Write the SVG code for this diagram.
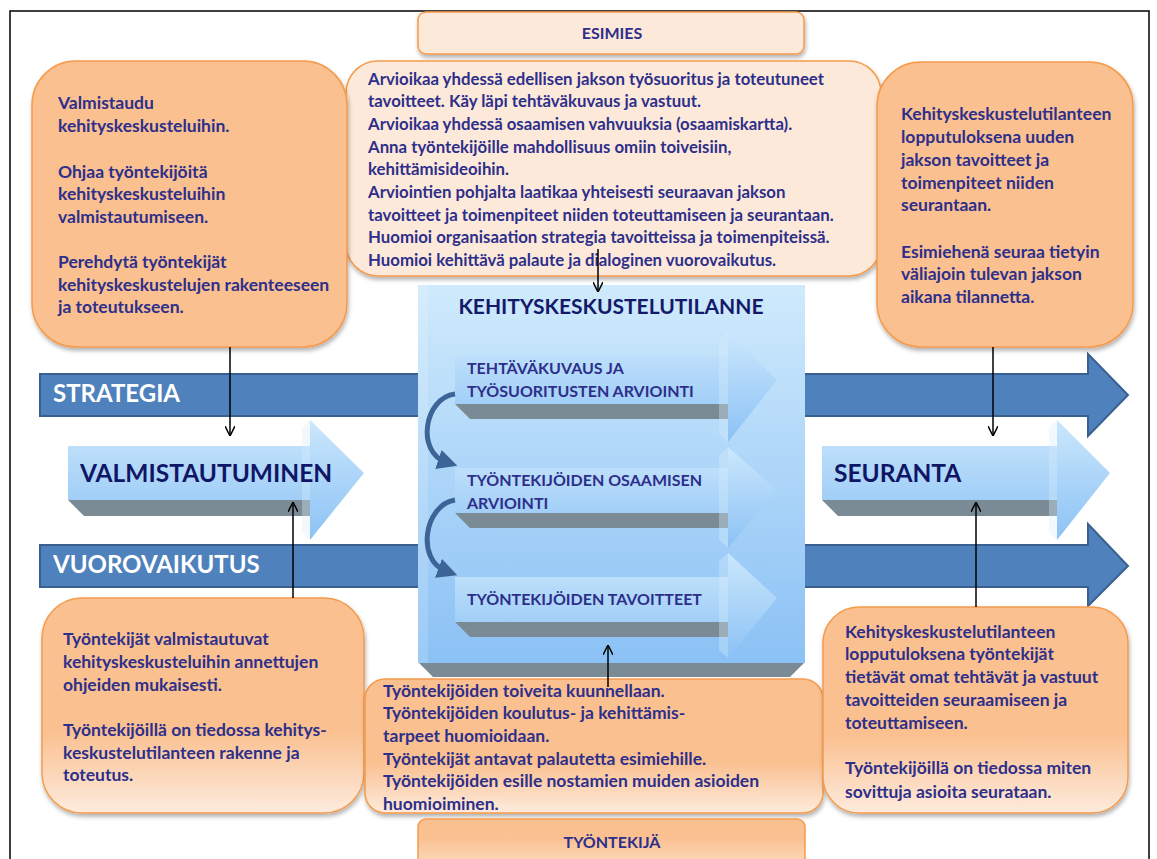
<svg xmlns="http://www.w3.org/2000/svg" width="1157" height="859" viewBox="0 0 1157 859">
<defs>
<style>
.t{font-family:Lato,"Open Sans","Liberation Sans",sans-serif;font-weight:700;font-size:17.5px;fill:#2d2f8a}
.c{font-size:16.8px}
.s{font-size:16px}
.big{font-family:Lato,"Open Sans","Liberation Sans",sans-serif;font-weight:700}
.bar{fill:#4f81bd;stroke:#3a6091;stroke-width:2}
.box{fill:#fac090;stroke:#f59b4c;stroke-width:1.5}
.lbox{fill:#fde9d9;stroke:#f59b4c;stroke-width:1.5}
.sh{fill:#7b8b96}
.conn{stroke:#000;stroke-width:1.5;fill:none;marker-end:url(#open)}
.curv{stroke:#3d6497;stroke-width:5;fill:none;marker-end:url(#fill)}
</style>
<linearGradient id="face" x1="0" y1="0" x2="0" y2="1">
<stop offset="0" stop-color="#cbe7fc"/><stop offset="1" stop-color="#8cc2f5"/>
</linearGradient>
<linearGradient id="panel" x1="0" y1="0" x2="0" y2="1">
<stop offset="0" stop-color="#cfeafc"/><stop offset="1" stop-color="#8bc1f5"/>
</linearGradient>
<linearGradient id="fade" x1="0" y1="0" x2="0" y2="1">
<stop offset="0" stop-color="#fac090"/><stop offset="0.62" stop-color="#fac090"/><stop offset="1" stop-color="#fdebdd"/>
</linearGradient>
<linearGradient id="fade2" x1="0" y1="0" x2="0" y2="1">
<stop offset="0" stop-color="#fac090"/><stop offset="0.3" stop-color="#fac090"/><stop offset="1" stop-color="#fde6d4"/>
</linearGradient>
<filter id="ds" x="-10%" y="-10%" width="130%" height="130%">
<feDropShadow dx="1" dy="3" stdDeviation="2" flood-color="#000" flood-opacity="0.3"/>
</filter>
<marker id="open" viewBox="0 0 10 10" refX="10" refY="5" markerWidth="10" markerHeight="10" markerUnits="userSpaceOnUse" orient="auto">
<path d="M0,0 L10,5 L0,10" fill="none" stroke="#000" stroke-width="1.5"/>
</marker>
<marker id="fill" viewBox="0 0 10 10" refX="4" refY="5" markerWidth="4" markerHeight="4" orient="auto">
<path d="M0,0 L10,5 L0,10 Z" fill="#3d6497"/>
</marker>
</defs>
<rect width="1157" height="859" fill="#fff"/>
<rect x="10" y="11" width="1139" height="870" fill="none" stroke="#000" stroke-width="1.5"/>

<g id="strategia">
<polygon class="bar" points="40,374 1088,374 1088,354 1128,395 1088,436 1088,416 40,416"/>
<text class="big" x="53" y="402" font-size="24" fill="#fff">STRATEGIA</text>
</g>
<g id="vuorovaikutus">
<polygon class="bar" points="40,545 1088,545 1088,524 1128,566 1088,606 1088,587 40,587"/>
<text class="big" x="53" y="573" font-size="24" fill="#fff">VUOROVAIKUTUS</text>
</g>

<g id="kehityskeskustelutilanne">
<polygon class="sh" points="418,662 805,662 790,677 433,677"/>
<rect x="418" y="285" width="387" height="378" fill="url(#panel)"/>
<rect x="418" y="285" width="10" height="378" fill="#fff" opacity="0.15"/>
<text class="big" x="611" y="314" font-size="21" fill="#141a6a" text-anchor="middle">KEHITYSKESKUSTELUTILANNE</text>
</g>

<g id="arvio1">
<polygon class="sh" points="455,404 728,404 728,419 470,419"/>
<path d="M455,355 H728 V332 L777,380 L728,442 V404 H455 Z" fill="url(#face)"/>
<polygon points="719,340 728,332 728,442 719,434" fill="#d6eefc" opacity="0.35"/>
<text class="t s" x="467" y="374" fill="#1c2370">TEHTÄVÄKUVAUS JA</text>
<text class="t s" x="467" y="397" fill="#1c2370">TYÖSUORITUSTEN ARVIOINTI</text>
</g>
<g id="arvio2">
<polygon class="sh" points="455,513 728,513 728,528 470,528"/>
<path d="M455,468 H728 V447 L777,490 L728,548 V513 H455 Z" fill="url(#face)"/>
<polygon points="719,455 728,447 728,548 719,540" fill="#d6eefc" opacity="0.35"/>
<text class="t s" x="467" y="486" fill="#1c2370">TYÖNTEKIJÖIDEN OSAAMISEN</text>
<text class="t s" x="467" y="509" fill="#1c2370">ARVIOINTI</text>
</g>
<g id="arvio3">
<polygon class="sh" points="455,622 728,622 728,637 470,637"/>
<path d="M455,577 H728 V553 L777,598 L728,658 V622 H455 Z" fill="url(#face)"/>
<polygon points="719,561 728,553 728,658 719,650" fill="#d6eefc" opacity="0.35"/>
<text class="t s" x="467" y="605" fill="#1c2370">TYÖNTEKIJÖIDEN TAVOITTEET</text>
</g>

<g id="valmistautuminen">
<polygon class="sh" points="68,500 310,500 310,516 84,516"/>
<path d="M68,446 H310 V420 L364,473 L310,540 V500 H68 Z" fill="url(#face)"/>
<polygon points="302,428 310,420 310,540 302,532" fill="#d6eefc" opacity="0.35"/>
<text class="big" x="80" y="482" font-size="24.5" fill="#0f1666">VALMISTAUTUMINEN</text>
</g>
<g id="seuranta">
<polygon class="sh" points="822,500 1057,500 1057,516 838,516"/>
<path d="M822,446 H1057 V420 L1110,473 L1057,540 V500 H822 Z" fill="url(#face)"/>
<polygon points="1049,428 1057,420 1057,540 1049,532" fill="#d6eefc" opacity="0.35"/>
<text class="big" x="834" y="482" font-size="24.5" fill="#0f1666">SEURANTA</text>
</g>

<g id="esimies">
<rect class="lbox" x="418" y="12" width="386" height="42" rx="8" filter="url(#ds)"/>
<text class="t s" x="612" y="39" text-anchor="middle">ESIMIES</text>
</g>

<g id="esimies-tehtavat">
<rect class="lbox" x="346" y="61" width="535" height="215" rx="32" filter="url(#ds)"/>
<text class="t c" x="368" y="85">Arvioikaa yhdessä edellisen jakson työsuoritus ja toteutuneet</text>
<text class="t c" x="368" y="107">tavoitteet. Käy läpi tehtäväkuvaus ja vastuut.</text>
<text class="t c" x="368" y="130">Arvioikaa yhdessä osaamisen vahvuuksia (osaamiskartta).</text>
<text class="t c" x="368" y="153">Anna työntekijöille mahdollisuus omiin toiveisiin,</text>
<text class="t c" x="368" y="175">kehittämisideoihin.</text>
<text class="t c" x="368" y="198">Arviointien pohjalta laatikaa yhteisesti seuraavan jakson</text>
<text class="t c" x="368" y="221">tavoitteet ja toimenpiteet niiden toteuttamiseen ja seurantaan.</text>
<text class="t c" x="368" y="243">Huomioi organisaation strategia tavoitteissa ja toimenpiteissä.</text>
<text class="t c" x="368" y="266">Huomioi kehittävä palaute ja dialoginen vuorovaikutus.</text>
</g>

<g id="esimies-valmistautuminen">
<rect class="box" x="32" y="61" width="315" height="286" rx="44" filter="url(#ds)"/>
<text class="t" x="58" y="109">Valmistaudu</text>
<text class="t" x="58" y="132">kehityskeskusteluihin.</text>
<text class="t" x="58" y="178">Ohjaa työntekijöitä</text>
<text class="t" x="58" y="200">kehityskeskusteluihin</text>
<text class="t" x="58" y="223">valmistautumiseen.</text>
<text class="t" x="58" y="268">Perehdytä työntekijät</text>
<text class="t" x="58" y="291">kehityskeskustelujen rakenteeseen</text>
<text class="t" x="58" y="313">ja toteutukseen.</text>
</g>

<g id="esimies-seuranta">
<rect class="box" x="877" y="62" width="256" height="285" rx="44" filter="url(#ds)"/>
<text class="t" x="901" y="120">Kehityskeskustelutilanteen</text>
<text class="t" x="901" y="143">lopputuloksena uuden</text>
<text class="t" x="901" y="166">jakson tavoitteet ja</text>
<text class="t" x="901" y="189">toimenpiteet niiden</text>
<text class="t" x="901" y="211">seurantaan.</text>
<text class="t" x="901" y="258">Esimiehenä seuraa tietyin</text>
<text class="t" x="901" y="280">väliajoin tulevan jakson</text>
<text class="t" x="901" y="303">aikana tilannetta.</text>
</g>

<g id="tyontekija-valmistautuminen">
<rect x="42" y="598" width="322" height="215" rx="40" fill="url(#fade)" stroke="#f59b4c" stroke-width="1.5" filter="url(#ds)"/>
<text class="t" x="63" y="645">Työntekijät valmistautuvat</text>
<text class="t" x="63" y="668">kehityskeskusteluihin annettujen</text>
<text class="t" x="63" y="691">ohjeiden mukaisesti.</text>
<text class="t" x="63" y="736">Työntekijöillä on tiedossa kehitys-</text>
<text class="t" x="63" y="759">keskustelutilanteen rakenne ja</text>
<text class="t" x="63" y="781">toteutus.</text>
</g>

<g id="tyontekija-tilanne">
<rect x="365" y="679" width="458" height="134" rx="20" fill="url(#fade)" stroke="#f59b4c" stroke-width="1.5" filter="url(#ds)"/>
<text class="t" x="383" y="697">Työntekijöiden toiveita kuunnellaan.</text>
<text class="t" x="383" y="719">Työntekijöiden koulutus- ja kehittämis-</text>
<text class="t" x="383" y="742">tarpeet huomioidaan.</text>
<text class="t" x="383" y="765">Työntekijät antavat palautetta esimiehille.</text>
<text class="t" x="383" y="787">Työntekijöiden esille nostamien muiden asioiden</text>
<text class="t" x="383" y="810">huomioiminen.</text>
</g>

<g id="tyontekija-seuranta">
<rect x="823" y="607" width="305" height="206" rx="36" fill="url(#fade)" stroke="#f59b4c" stroke-width="1.5" filter="url(#ds)"/>
<text class="t" x="845" y="638">Kehityskeskustelutilanteen</text>
<text class="t" x="845" y="660">lopputuloksena työntekijät</text>
<text class="t" x="845" y="683">tietävät omat tehtävät ja vastuut</text>
<text class="t" x="845" y="706">tavoitteiden seuraamiseen ja</text>
<text class="t" x="845" y="729">toteuttamiseen.</text>
<text class="t" x="845" y="774">Työntekijöillä on tiedossa miten</text>
<text class="t" x="845" y="798">sovittuja asioita seurataan.</text>
</g>

<g id="tyontekija">
<rect x="418" y="819" width="387" height="60" rx="8" fill="url(#fade2)" stroke="#f59b4c" stroke-width="1.5"/>
<text class="t s" x="612" y="848" text-anchor="middle">TYÖNTEKIJÄ</text>
</g>

<g id="connectors">
<path class="conn" d="M230,347 V436"/>
<path class="conn" d="M598,249 V292"/>
<path class="conn" d="M993,347 V436"/>
<path class="conn" d="M293,598 V502"/>
<path class="conn" d="M608,687 V645"/>
<path class="conn" d="M976,607 V502"/>
<path class="curv" d="M455,394 C424,398 416,452 446,462"/>
<path class="curv" d="M455,500 C424,505 416,560 446,571"/>
</g>
</svg>
